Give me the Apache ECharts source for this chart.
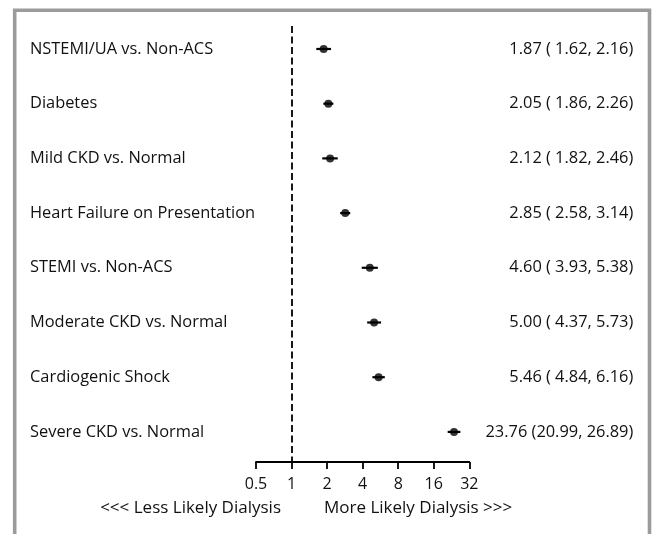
<!DOCTYPE html>
<html>
<head>
<meta charset="utf-8">
<script src="https://cdn.jsdelivr.net/npm/echarts@6/dist/echarts.min.js"></script>
<style>
html,body{margin:0;padding:0;background:#fff;}
#c{width:653px;height:534px;}
</style>
</head>
<body>
<div id="c"></div>
<script>
var categories = [
  "NSTEMI/UA vs. Non-ACS",
  "Diabetes",
  "Mild CKD vs. Normal",
  "Heart Failure on Presentation",
  "STEMI vs. Non-ACS",
  "Moderate CKD vs. Normal",
  "Cardiogenic Shock",
  "Severe CKD vs. Normal"
];
var estimates = [1.87, 2.05, 2.12, 2.85, 4.60, 5.00, 5.46, 23.76];
var lower = [1.62, 1.86, 1.82, 2.58, 3.93, 4.37, 4.84, 20.99];
var upper = [2.16, 2.26, 2.46, 3.14, 5.38, 5.73, 6.16, 26.89];
var ciLabels = [
  "1.87 ( 1.62, 2.16)",
  "2.05 ( 1.86, 2.26)",
  "2.12 ( 1.82, 2.46)",
  "2.85 ( 2.58, 3.14)",
  "4.60 ( 3.93, 5.38)",
  "5.00 ( 4.37, 5.73)",
  "5.46 ( 4.84, 6.16)",
  "23.76 (20.99, 26.89)"
];
var xTicks = [0.5, 1, 2, 4, 8, 16, 32];
var leftNote = "<<< Less Likely Dialysis";
var rightNote = "More Likely Dialysis >>>";

var FONT = "Open Sans";
var TXT = "#111";
var rows = categories.map(function (_, i) { return i; });

var chart = echarts.init(document.getElementById('c'), null, {renderer: 'canvas'});
chart.setOption({
  animation: false,
  backgroundColor: '#fff',
  grid: {left: 256, right: 183.7, top: 26, bottom: 72},
  xAxis: {
    type: 'log', logBase: 2, min: 0.5, max: 32,
    axisLine: {show: true, onZero: false, lineStyle: {color: '#000', width: 1.8}},
    axisTick: {show: true, length: 7, lineStyle: {color: '#000', width: 1.8}},
    splitLine: {show: false},
    minorTick: {show: false},
    axisLabel: {
      color: TXT, fontFamily: FONT, fontSize: 16, margin: 14,
      customValues: xTicks,
      formatter: function (v) { return String(+v.toFixed(2)); }
    }
  },
  yAxis: [{
    type: 'value', min: -0.42, max: 7.55, inverse: true,
    axisLine: {show: false}, axisTick: {show: false}, splitLine: {show: false},
    axisLabel: {
      customValues: rows, align: 'left', margin: 226,
      color: TXT, fontFamily: FONT, fontSize: 16.4,
      formatter: function (v) { return categories[Math.round(v)]; }
    }
  }, {
    type: 'value', min: -0.42, max: 7.55, inverse: true, position: 'right',
    axisLine: {show: false}, axisTick: {show: false}, splitLine: {show: false},
    axisLabel: {
      customValues: rows, align: 'right', margin: 164,
      color: TXT, fontFamily: FONT, fontSize: 16.4,
      formatter: function (v) { return ciLabels[Math.round(v)]; }
    }
  }],
  series: [{
    type: 'custom',
    data: rows.map(function (i) { return [lower[i], upper[i], i]; }),
    encode: {x: [0, 1], y: 2},
    renderItem: function (params, api) {
      var p1 = api.coord([api.value(0), api.value(2)]);
      var p2 = api.coord([api.value(1), api.value(2)]);
      return {type: 'line', shape: {x1: p1[0], y1: p1[1], x2: p2[0], y2: p2[1]},
        style: {stroke: '#000', lineWidth: 2.2}};
    },
    z: 2
  }, {
    type: 'scatter',
    data: rows.map(function (i) { return [estimates[i], i]; }),
    symbol: 'circle', symbolSize: 8,
    itemStyle: {color: '#000'},
    z: 3,
    markLine: {
      silent: true, symbol: ['none', 'none'], label: {show: false},
      lineStyle: {color: '#000', width: 1.8, type: [7, 3.5]},
      data: [{xAxis: 1}]
    }
  }],
  graphic: [{
    type: 'rect', shape: {x: 14.7, y: 10.3, width: 634.8, height: 560},
    style: {fill: 'none', stroke: '#9b9b9b', lineWidth: 3.6}, silent: true
  }, {
    type: 'text', x: 281, y: 508,
    style: {text: leftNote, fill: TXT, font: '17px "' + FONT + '"', textAlign: 'right', textVerticalAlign: 'middle'}
  }, {
    type: 'text', x: 324, y: 508,
    style: {text: rightNote, fill: TXT, font: '17px "' + FONT + '"', textAlign: 'left', textVerticalAlign: 'middle'}
  }]
});
</script>
</body>
</html>
